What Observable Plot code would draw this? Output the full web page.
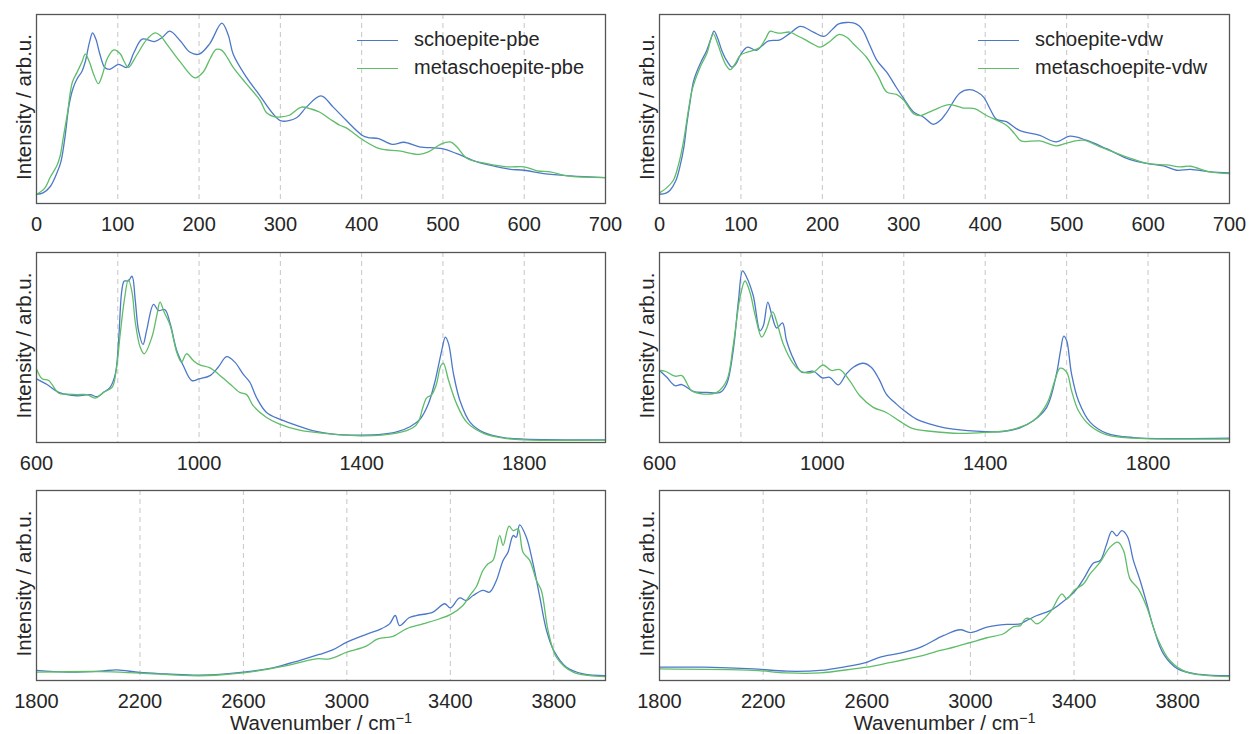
<!DOCTYPE html>
<html>
<head>
<meta charset="utf-8">
<script src="https://cdn.jsdelivr.net/npm/d3@7"></script>
<script src="https://cdn.jsdelivr.net/npm/@observablehq/plot@0.6"></script>
<style>
  body { margin: 0; background: #fff; }
  #root { position: relative; width: 1249px; height: 734px; overflow: hidden; background: #fff;
          font-family: "Liberation Sans", Arial, Helvetica, sans-serif; }
  .panel { position: absolute; width: 640px; }
  .panel svg { max-width: none !important; display: block; }
  .sw { position: absolute; height: 0; border-top: 1.3px solid; width: 41px; }
  .lt { position: absolute; font-size: 20px; line-height: 28px; color: #262626; white-space: nowrap; }
</style>
</head>
<body>
<div id="root"></div>
<script>
// ---------- Data (wavenumber cm^-1, intensity arb.u. scaled 0-100) ----------
const seriesNamesPbe = ["schoepite-pbe", "metaschoepite-pbe"];
const seriesNamesVdw = ["schoepite-vdw", "metaschoepite-vdw"];
const seriesColors = ["#4C78C8", "#5FBD68"];

// Low range 0-700
const lowPbeSchoepite = [[0,4.9],[8,5.6],[17,9],[25,16],[30,22],[35,35],[40,52],[45,61],[50,66],[56,70],[60,75],[65,85],[69,90.3],[73,87],[78,79],[84,72],[90,71],[101,73.6],[111,72],[120,80],[130,87],[145,85.7],[155,88],[164,91.2],[177,86],[189,80],[200,79],[213,84.5],[228,95.4],[236,89],[242,79],[258,67],[275,57],[291,47.5],[301,43.7],[320,45.4],[332,51],[350,56.9],[365,51],[381,44],[401,36],[408,34.9],[421,34.3],[438,31.3],[452,32.4],[471,30],[499,29],[517,26.4],[542,22],[567,19.4],[583,18.1],[600,17.6],[624,15.8],[657,14.6],[700,13.7]];
const lowPbeMeta = [[0,4.9],[10,8],[17,14],[25,20],[29,25],[33,35],[38,47.5],[44,64],[50,69.5],[56,75],[60,79],[65,75],[70,68.7],[76,63.4],[81,68],[87,76.6],[95,81.3],[103,79.2],[108,75],[113,72],[123,78.3],[136,87],[146,90.3],[152,89],[160,84.5],[177,74.8],[195,66.5],[205,69.5],[214,77],[221,81.5],[228,81],[235,77],[242,72],[258,63.4],[275,54.6],[283,48],[292,46],[301,45.8],[311,46.7],[326,51],[338,50],[348,48.4],[360,45],[373,41.4],[381,40],[401,33.8],[422,29],[446,27.8],[471,26],[482,27.3],[497,31.3],[509,32.6],[517,30],[530,23.8],[554,21.1],[579,19.4],[600,19.4],[616,17.3],[632,16.7],[653,14.6],[700,13.7]];
const lowVdwSchoepite = [[0,4.9],[8,5.5],[13,7],[20,12],[25,19.4],[30,30],[33.5,42],[38,55],[42,65],[50,74],[58,81],[63,87],[67,91.2],[71,88],[76.5,81],[82,76],[89,72.2],[94,74],[99,78.3],[108,82.7],[119,81],[126,83.5],[134,86],[148,86.6],[160,90],[173,93.7],[189,90.7],[202,88.4],[212,92],[220,95],[238,95.6],[245,94],[250,91.5],[258,84],[267,75.7],[279,69.5],[290,62],[300,55.5],[312,48.4],[324,45.8],[336,41.9],[345,44],[353,48.4],[369,58.5],[381,60.2],[390,59],[398,56.3],[406,50],[414,44.5],[426,43.3],[442,38.7],[467,36],[487,32.6],[504,35.6],[524,33.5],[549,29],[578,23.2],[600,21.1],[619,19.9],[635,17.6],[652,18.1],[676,16.7],[700,16.2]];
const lowVdwMeta = [[0,5.6],[8,8],[17,12.3],[23,20],[29,31.7],[35,48],[40,60],[50,72.2],[58,79.2],[66,89.8],[71,85],[76.5,78.3],[82,73],[87,70.8],[93,74],[99,78.3],[107,80],[115,81],[123.5,82.7],[130,87],[136,91.2],[142,90.5],[148,90.1],[160,90.7],[168,89],[177,87.1],[190,84],[197,82.7],[210,86],[220,89.4],[230,88],[238,84.5],[254,77.5],[262,72],[269,66.9],[279,59],[291,57.7],[300,54.6],[312,47.5],[320,46.5],[336,49.3],[356,52.3],[373,50.5],[387,50.2],[401,46.7],[426,41.4],[436,37],[444,33.1],[467,33.1],[487,30.5],[500,32],[520,33.5],[541,30],[574,24.6],[600,21.1],[623,20.4],[639,19.4],[652,19.7],[676,16.7],[700,15.8]];

// Mid range 600-2000
const midPbeSchoepite = [[600,33.5],[626,30.5],[655,26.4],[700,24.6],[732,25.2],[749,24.1],[765,26.4],[781,29],[794,36.1],[802,53.7],[810,80.1],[816,85],[826,85],[835,87.5],[843,74.8],[851,59],[862,51.6],[871,59],[888,72.7],[900,69.5],[916,69.9],[929,62.5],[945,48.4],[961,40.5],[982,32.6],[1000,33.5],[1027,35.2],[1047,39.6],[1068,45.2],[1088,42.3],[1108,36.1],[1125,31.7],[1141,23.8],[1166,15.8],[1198,12.3],[1231,9.7],[1288,5.8],[1329,4.4],[1400,3.9],[1452,4.4],[1486,5.6],[1519,8.3],[1544,12.3],[1564,20.2],[1581,32.6],[1597,48.4],[1606,55.5],[1614,51.9],[1626,36.1],[1642,22],[1667,10.6],[1700,5.3],[1749,2.6],[1799,1.8],[2000,1.4]];
const midPbeMeta = [[600,38.7],[614,33.5],[630,32.6],[655,25.9],[675,25.5],[700,25.2],[724,25.2],[745,23.4],[765,26.4],[786,29],[796,37.9],[806,57.2],[816,74.8],[826,85.7],[835,79.2],[843,63.4],[855,50.2],[865,46.7],[884,55.5],[896,66.9],[904,73.9],[914,68.7],[929,61.6],[945,47.5],[957,42.3],[969,46.7],[986,43.1],[1000,41],[1027,39.3],[1047,36.1],[1076,30.8],[1100,26.4],[1117,25.2],[1133,19.4],[1166,13.2],[1198,9.7],[1247,6.5],[1329,4.4],[1400,3.5],[1486,4.9],[1527,7.9],[1540,11],[1550,18],[1560,23.5],[1572,25],[1583,30],[1595,40.5],[1601,41.8],[1614,32.6],[1634,20.2],[1659,10.6],[1700,4.8],[1749,2.3],[1799,1.4],[2000,1.2]];
const midVdwSchoepite = [[600,37.9],[618,34.3],[638,29.9],[655,30.5],[683,26.9],[716,26.4],[749,26.4],[765,30.8],[781,48.4],[794,74.8],[804,90.3],[814,87],[830,77.5],[847,58.8],[855,61.4],[866,73.9],[875,67.8],[888,60.2],[902,62.9],[912,53.7],[929,44],[949,37],[978,37.5],[1000,34],[1018,34.3],[1039,30.3],[1059,36.1],[1076,39.6],[1100,41.7],[1120,39.6],[1141,32.6],[1157,25.5],[1182,20.2],[1199,17.1],[1231,12.3],[1280,8.8],[1321,7],[1400,5.7],[1443,5.8],[1484,7.6],[1518,11.4],[1551,18.5],[1575,36.1],[1585,48.4],[1593,56],[1600,53.7],[1612,36.1],[1629,22],[1658,10.6],[1699,4.8],[1765,2.6],[2000,2.3]];
const midVdwMeta = [[600,37.9],[614,37.5],[638,34.9],[655,35.2],[679,27.3],[708,25.5],[741,26.4],[765,32.6],[781,51],[798,76.6],[810,85],[822,79.2],[835,66.9],[851,55.5],[863,59.9],[878,68.7],[888,63.4],[904,51.9],[929,41.4],[949,37.3],[978,37],[1002,40.8],[1022,37.9],[1043,38.4],[1067,32.6],[1092,24.6],[1125,18.5],[1157,15.8],[1188,11.5],[1221,7.4],[1271,5.8],[1337,4.8],[1400,5.3],[1460,6.5],[1518,11.4],[1551,20.2],[1571,32.6],[1584,39.1],[1600,37],[1612,27.3],[1629,16.7],[1658,8.8],[1699,4],[1765,2.3],[2000,1.8]];

// High range 1800-4000
const highPbeSchoepite = [[1800,5.3],[1918,4.4],[2046,4.9],[2111,5.6],[2200,4.2],[2303,3.5],[2431,2.8],[2600,4.4],[2714,6.7],[2816,10.5],[2893,13.7],[2945,16.1],[3000,20.2],[3073,24.2],[3126,26.8],[3165,29.8],[3187,34.2],[3204,28.9],[3240,33],[3268,34.2],[3333,36],[3378,40.4],[3400,38.2],[3436,43.5],[3462,42.1],[3488,44.7],[3526,47.4],[3552,46.5],[3578,52.6],[3604,63.2],[3623,67.5],[3643,76.3],[3655,75.4],[3668,81.9],[3694,75.4],[3720,61.4],[3746,43.9],[3772,26.3],[3800,15.8],[3849,7],[3914,3.5],[4000,2.6]];
const highPbeMeta = [[1800,4.4],[2046,4.7],[2200,3.9],[2431,2.5],[2600,4],[2752,7.4],[2881,11.4],[2933,11.4],[3000,14.9],[3075,18.1],[3120,21.9],[3178,23.2],[3230,27.2],[3294,29.8],[3359,32.5],[3400,34.7],[3449,39.5],[3475,44.7],[3501,49.5],[3526,57.9],[3546,61.4],[3565,63.2],[3591,76.3],[3604,71.1],[3627,81.2],[3643,78.9],[3662,79.8],[3681,67.5],[3707,63.2],[3733,52.6],[3752,47.4],[3778,26.3],[3810,12.3],[3875,4.4],[4000,2.1]];
const highVdwSchoepite = [[1800,7],[1970,7],[2163,6.1],[2292,4.9],[2420,5.3],[2523,7.4],[2600,9.6],[2652,12.3],[2729,14.4],[2806,17.4],[2897,23.7],[2961,26.7],[3000,25.2],[3064,28.1],[3141,29.5],[3193,29.8],[3205,30.7],[3257,34.2],[3308,36.8],[3347,40.4],[3400,46.5],[3437,53.5],[3475,61.8],[3501,63.2],[3526,71.9],[3546,78.6],[3565,76.1],[3584,78.9],[3606,75.8],[3629,63.2],[3655,52.6],[3681,40.4],[3706,28.1],[3745,14],[3800,6.1],[3886,3.2],[4000,2.5]];
const highVdwMeta = [[1800,6.1],[2163,5.3],[2292,4],[2420,4],[2549,6.1],[2600,7],[2678,9.1],[2806,12.8],[2883,15.8],[2935,17.5],[3000,20],[3064,22.5],[3128,24.6],[3167,28.4],[3193,28.9],[3212,32.5],[3231,32.5],[3257,29.8],[3308,36],[3353,45.6],[3372,43],[3400,47.4],[3437,50.9],[3462,56.1],[3501,62.3],[3539,70.2],[3569,72.8],[3591,68.4],[3616,53.5],[3648,48.2],[3681,38.6],[3720,22.8],[3770,10.5],[3835,4.4],[4000,2.1]];

// Axis ticks and grid positions
const lowDomain = [0, 700];
const lowTicks = [0, 100, 200, 300, 400, 500, 600, 700];
const lowGrid = [100, 200, 300, 400, 500, 600];
const midDomain = [600, 2000];
const midTicks = [600, 1000, 1400, 1800];
const midGrid = [800, 1000, 1200, 1400, 1600, 1800];
const highDomain = [1800, 4000];
const highTicks = [1800, 2200, 2600, 3000, 3400, 3800];
const highGrid = [2200, 2600, 3000, 3400, 3800];

const yLabel = "Intensity / arb.u.";
const xLabel = "Wavenumber / cm⁻¹";

// ---------- Layout ----------
const root = document.getElementById("root");
const font = '"Liberation Sans", Arial, Helvetica, sans-serif';
const textColor = "#262626";

const panels = [
  {row: 0, col: 0, series: [lowPbeSchoepite, lowPbeMeta], names: seriesNamesPbe, domain: lowDomain, ticks: lowTicks, grid: lowGrid, legend: true},
  {row: 0, col: 1, series: [lowVdwSchoepite, lowVdwMeta], names: seriesNamesVdw, domain: lowDomain, ticks: lowTicks, grid: lowGrid, legend: true},
  {row: 1, col: 0, series: [midPbeSchoepite, midPbeMeta], names: seriesNamesPbe, domain: midDomain, ticks: midTicks, grid: midGrid},
  {row: 1, col: 1, series: [midVdwSchoepite, midVdwMeta], names: seriesNamesVdw, domain: midDomain, ticks: midTicks, grid: midGrid},
  {row: 2, col: 0, series: [highPbeSchoepite, highPbeMeta], names: seriesNamesPbe, domain: highDomain, ticks: highTicks, grid: highGrid},
  {row: 2, col: 1, series: [highVdwSchoepite, highVdwMeta], names: seriesNamesVdw, domain: highDomain, ticks: highTicks, grid: highGrid}
];

const rowTop = [0, 238, 476];
const rowFrameH = [189, 190, 190];
const rowMarginBottom = [35, 34, 54];
const colLeft = [0, 623];
const colMarginRight = [35, 34];

for (const p of panels) {
  const data = [];
  p.series.forEach((s, i) => s.forEach(([x, y]) => data.push({x, y, s: p.names[i]})));
  const marks = [
    Plot.ruleX(p.grid, {stroke: "#c6c6c6", strokeWidth: 1, strokeDasharray: "5,4"}),
    Plot.line(data, {x: "x", y: "y", z: "s", stroke: "s", strokeWidth: 1.3, curve: "catmull-rom"}),
    Plot.frame({stroke: "#555", strokeWidth: 1.3}),
    Plot.axisX({ticks: p.ticks, tickSize: 0, tickPadding: 13, fontSize: 20, label: null, tickFormat: d => String(d)}),
    Plot.text([yLabel], {frameAnchor: "left", textAnchor: "middle", lineAnchor: "middle", rotate: -90, dx: -12, dy: -2, fontSize: 20.5, fill: textColor})
  ];
  if (p.row === 2) {
    marks.push(Plot.text([xLabel], {frameAnchor: "bottom", textAnchor: "middle", lineAnchor: "middle", dy: 43, fontSize: 20.5, fill: textColor}));
  }
  const svg = Plot.plot({
    width: 640,
    height: 14 + rowFrameH[p.row] + rowMarginBottom[p.row],
    marginTop: 14,
    marginLeft: 36,
    marginRight: colMarginRight[p.col],
    marginBottom: rowMarginBottom[p.row],
    x: {domain: p.domain},
    y: {domain: [0, 100], axis: null},
    color: {domain: p.names, range: seriesColors},
    style: {fontFamily: font, fontSize: "20px", color: textColor, background: "transparent", overflow: "visible", maxWidth: "none"},
    marks
  });
  // superscript for the unit
  d3.select(svg).selectAll("text").filter(function() { return this.textContent === xLabel; })
    .each(function() {
      const t = d3.select(this);
      t.text("Wavenumber / cm");
      t.append("tspan").attr("dy", "-0.5em").attr("font-size", "14.5px").text("−1");
    });
  const div = document.createElement("div");
  div.className = "panel";
  div.style.left = colLeft[p.col] + "px";
  div.style.top = rowTop[p.row] + "px";
  div.appendChild(svg);
  root.appendChild(div);

  if (p.legend) {
    const swLeft = p.col === 0 ? 357 : 978;
    const txLeft = p.col === 0 ? 414 : 1035;
    const cys = [40, 68];
    p.names.forEach((name, i) => {
      const sw = document.createElement("div");
      sw.className = "sw";
      sw.style.left = swLeft + "px";
      sw.style.top = cys[i] + "px";
      sw.style.borderTopColor = seriesColors[i];
      root.appendChild(sw);
      const lt = document.createElement("div");
      lt.className = "lt";
      lt.style.left = txLeft + "px";
      lt.style.top = (cys[i] - 15) + "px";
      lt.textContent = name;
      root.appendChild(lt);
    });
  }
}
</script>
</body>
</html>
